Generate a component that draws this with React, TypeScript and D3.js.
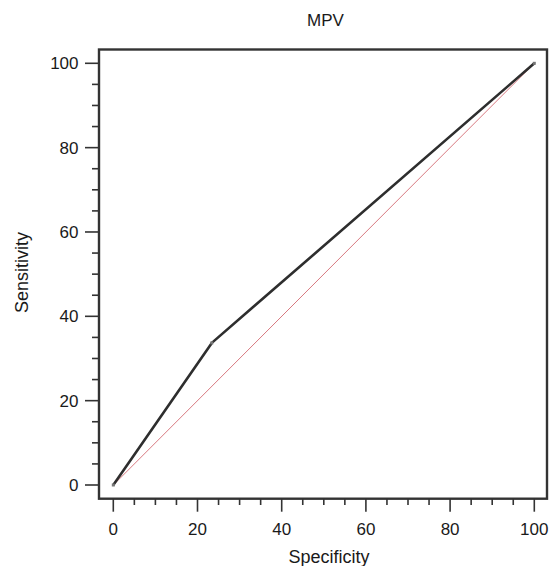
import React, { useEffect, useRef } from 'react'
import * as d3 from 'd3'

// ROC points for MPV
const specificity = [0, 23.4, 100]
const sensitivity = [0, 33.7, 100]
const majorTicks = [0, 20, 40, 60, 80, 100]
const minorTicks = d3.range(0, 101, 5)

const W = 549
const H = 566

function App() {
    const ref = useRef<SVGSVGElement>(null)

    useEffect(() => {
        const svg = d3.select(ref.current)
        svg.selectAll('*').remove()

        const x = d3.scaleLinear().domain([0, 100]).range([113.3, 534.3])
        const y = d3.scaleLinear().domain([0, 100]).range([485, 63.3])
        const frame = { left: 99, top: 49.5, right: 547, bottom: 498.7 }
        const font = 'Arial, "Liberation Sans", sans-serif'
        const ink = '#1a1a1a'

        // title
        svg.append('text')
            .attr('x', 325.5).attr('y', 26)
            .attr('text-anchor', 'middle')
            .attr('font-family', font).attr('font-size', 17)
            .attr('fill', ink)
            .text('MPV')

        // x ticks below frame
        const gx = svg.append('g')
        gx.selectAll('line').data(minorTicks).join('line')
            .attr('x1', d => x(d)).attr('x2', d => x(d))
            .attr('y1', frame.bottom).attr('y2', d => majorTicks.includes(d) ? 511.7 : 505)
            .attr('stroke', '#333').attr('stroke-width', 1.6)
        gx.selectAll('text').data(majorTicks).join('text')
            .attr('x', d => x(d)).attr('y', 535)
            .attr('text-anchor', 'middle')
            .attr('font-family', font).attr('font-size', 17).attr('fill', ink)
            .text(d => d)

        // y ticks left of frame
        const gy = svg.append('g')
        gy.selectAll('line').data(minorTicks).join('line')
            .attr('y1', d => y(d)).attr('y2', d => y(d))
            .attr('x1', frame.left).attr('x2', d => majorTicks.includes(d) ? 85 : 92)
            .attr('stroke', '#333').attr('stroke-width', 1.6)
        gy.selectAll('text').data(majorTicks).join('text')
            .attr('x', 78.5).attr('y', d => y(d) + 5.9)
            .attr('text-anchor', 'end')
            .attr('font-family', font).attr('font-size', 17).attr('fill', ink)
            .text(d => d)

        // axis labels
        svg.append('text')
            .attr('x', 329).attr('y', 562.7)
            .attr('text-anchor', 'middle')
            .attr('font-family', font).attr('font-size', 18).attr('fill', ink)
            .text('Specificity')
        svg.append('text')
            .attr('transform', `translate(27.7,272.5) rotate(-90)`)
            .attr('text-anchor', 'middle')
            .attr('font-family', font).attr('font-size', 18).attr('fill', ink)
            .text('Sensitivity')

        // diagonal reference
        svg.append('line')
            .attr('x1', x(0)).attr('y1', y(0))
            .attr('x2', x(100)).attr('y2', y(100))
            .attr('stroke', '#d46a72').attr('stroke-width', 0.9)

        // ROC curve
        const pts = specificity.map((s, i) => [s, sensitivity[i]] as [number, number])
        const line = d3.line<[number, number]>().x(d => x(d[0])).y(d => y(d[1]))
        svg.append('path')
            .attr('d', line(pts))
            .attr('fill', 'none')
            .attr('stroke', '#2e2e2e').attr('stroke-width', 2.6)
            .attr('stroke-linejoin', 'round')
        svg.selectAll('rect.pt').data(pts).join('rect')
            .attr('class', 'pt')
            .attr('x', d => x(d[0]) - 1.5).attr('y', d => y(d[1]) - 1.5)
            .attr('width', 3).attr('height', 3)
            .attr('fill', '#777')

        // frame
        svg.append('rect')
            .attr('x', frame.left).attr('y', frame.top)
            .attr('width', frame.right - frame.left).attr('height', frame.bottom - frame.top)
            .attr('fill', 'none').attr('stroke', '#333').attr('stroke-width', 2.4)
    }, [])

    return (
        <svg ref={ref} width={W} height={H}
            style={{ position: 'absolute', left: 0, top: 0, background: '#fff' }} />
    )
}

export default App
